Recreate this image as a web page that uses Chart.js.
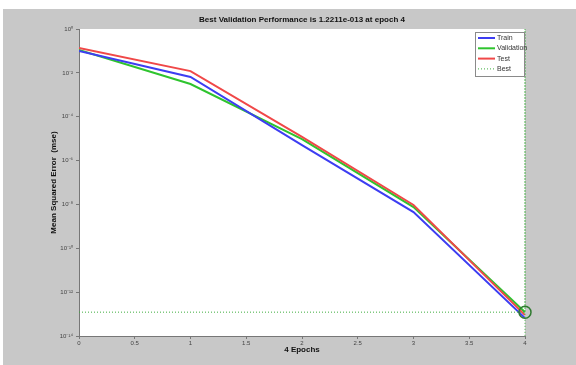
<!DOCTYPE html>
<html>
<head>
<meta charset="utf-8">
<script src="https://cdn.jsdelivr.net/npm/chart.js@4.4.1/dist/chart.umd.min.js"></script>
<style>
  html, body { margin: 0; padding: 0; background: #fff; }
  #wrap { position: absolute; left: 3px; top: 9px; width: 573px; height: 356px; background: #c8c8c8; }
</style>
</head>
<body>
<div id="wrap"><canvas id="perfChart"></canvas></div>
<script>
// Data (mse per epoch)
const epochs = [0, 1, 2, 3, 4];
const trainMse = [0.10, 0.0065, 5.1e-6, 4.5e-9, 6.6e-14];
const valMse = [0.11, 0.0031, 9.6e-6, 7.6e-9, 1.2211e-13];
const testMse = [0.135, 0.012, 1.2e-5, 9.4e-9, 9.0e-14];
const bestEpoch = 4;
const bestMse = 1.2211e-13;
const yTicks = [1e0, 1e-2, 1e-4, 1e-6, 1e-8, 1e-10, 1e-12, 1e-14];
const xTicks = [0, 0.5, 1, 1.5, 2, 2.5, 3, 3.5, 4];
const legendLabels = ['Train', 'Validation', 'Test', 'Best'];

const FONT = "'Liberation Sans Narrow', 'Liberation Sans', Arial, sans-serif";
const sup = { '0': '\u2070', '1': '\u00b9', '2': '\u00b2', '4': '\u2074', '6': '\u2076', '8': '\u2078', '-': '\u207b' };

function toPoints(values) {
    return epochs.map((e, i) => ({ x: e, y: values[i] }));
}

// white plot background
const plotBg = {
    id: 'plotBg',
    beforeDraw(chart) {
        const a = chart.chartArea;
        const ctx = chart.ctx;
        ctx.save();
        ctx.fillStyle = '#ffffff';
        ctx.fillRect(a.left, a.top, a.right - a.left, a.bottom - a.top);
        ctx.restore();
    }
};

// matlab style legend box in the top right corner
const boxLegend = {
    id: 'boxLegend',
    afterDraw(chart) {
        const a = chart.chartArea;
        const ctx = chart.ctx;
        const w = 49, h = 44;
        const x0 = a.right - w - 1, y0 = a.top + 3;
        ctx.save();
        ctx.fillStyle = '#ffffff';
        ctx.fillRect(x0, y0, w, h);
        ctx.strokeStyle = '#8a8a8a';
        ctx.lineWidth = 1;
        ctx.strokeRect(x0 + 0.5, y0 + 0.5, w, h);
        ctx.font = '7px ' + FONT;
        ctx.textBaseline = 'middle';
        ctx.fillStyle = '#333';
        legendLabels.forEach((label, i) => {
            const ds = chart.data.datasets[i];
            const y = y0 + 6 + i * 10.3;
            ctx.beginPath();
            ctx.strokeStyle = ds.borderColor;
            ctx.lineWidth = i === 3 ? 1 : 2;
            ctx.setLineDash(i === 3 ? [1, 2] : []);
            ctx.moveTo(x0 + 3, y);
            ctx.lineTo(x0 + 20, y);
            ctx.stroke();
            ctx.setLineDash([]);
            ctx.fillText(label, x0 + 22, y);
        });
        ctx.restore();
    }
};

new Chart(document.getElementById('perfChart'), {
    type: 'line',
    data: {
        datasets: [
            { label: 'Train', data: toPoints(trainMse), borderColor: '#3d3df2', borderWidth: 2, pointRadius: 0, order: 1 },
            { label: 'Validation', data: toPoints(valMse), borderColor: '#2ec42e', borderWidth: 2, pointRadius: 0, order: 3 },
            { label: 'Test', data: toPoints(testMse), borderColor: '#f04848', borderWidth: 2, pointRadius: 0, order: 2 },
            {
                label: 'Best',
                data: [{ x: 0, y: bestMse }, { x: bestEpoch, y: bestMse }, { x: bestEpoch, y: 1 }, { x: bestEpoch, y: 1e-14 }],
                borderColor: '#3fae3f', borderWidth: 1, borderDash: [1, 2], pointRadius: 0, clip: false
            },
            {
                label: 'marker',
                data: [{ x: bestEpoch, y: bestMse }],
                showLine: false, pointRadius: 6, pointBorderWidth: 1.5,
                pointBorderColor: '#2f7a2f', pointBackgroundColor: 'rgba(0,0,0,0)', clip: false
            }
        ]
    },
    options: {
        responsive: true,
        maintainAspectRatio: false,
        animation: false,
        layout: { padding: { left: 0, right: 51, top: 0, bottom: 0 } },
        plugins: {
            legend: { display: false },
            tooltip: { enabled: false },
            title: {
                display: true,
                fullSize: false,
                text: 'Best Validation Performance is 1.2211e-013 at epoch 4',
                color: '#111',
                font: { family: FONT, size: 8, weight: 'bold', lineHeight: 1.2 },
                padding: { top: 6, bottom: 4.4 }
            }
        },
        scales: {
            x: {
                type: 'linear',
                min: 0, max: 4,
                afterBuildTicks(scale) { scale.ticks = xTicks.map(v => ({ value: v })); },
                afterFit(scale) { scale.height = 29; },
                grid: { drawOnChartArea: false, drawTicks: true, tickLength: 3, color: '#777' },
                border: { color: '#777' },
                ticks: {
                    color: '#444', font: { family: FONT, size: 6 }, padding: 1, maxRotation: 0,
                    callback: v => String(v)
                },
                title: {
                    display: true, text: '4 Epochs', color: '#111',
                    font: { family: FONT, size: 8, weight: 'bold' },
                    padding: { top: 0, bottom: 10 }
                }
            },
            y: {
                type: 'logarithmic',
                min: 1e-14, max: 1,
                afterBuildTicks(scale) { scale.ticks = yTicks.map(v => ({ value: v })); },
                afterFit(scale) { scale.width = 76; },
                grid: { drawOnChartArea: false, drawTicks: true, tickLength: 3, color: '#777' },
                border: { color: '#777' },
                ticks: {
                    color: '#444', font: { family: FONT, size: 6 }, padding: 3,
                    callback: v => '10' + String(Math.round(Math.log10(v))).split('').map(c => sup[c]).join('')
                },
                title: {
                    display: true, text: 'Mean Squared Error  (mse)', color: '#111',
                    font: { family: FONT, size: 8, weight: 'bold' },
                    padding: { top: 46, bottom: 0 }
                }
            }
        }
    },
    plugins: [plotBg, boxLegend]
});
</script>
</body>
</html>
